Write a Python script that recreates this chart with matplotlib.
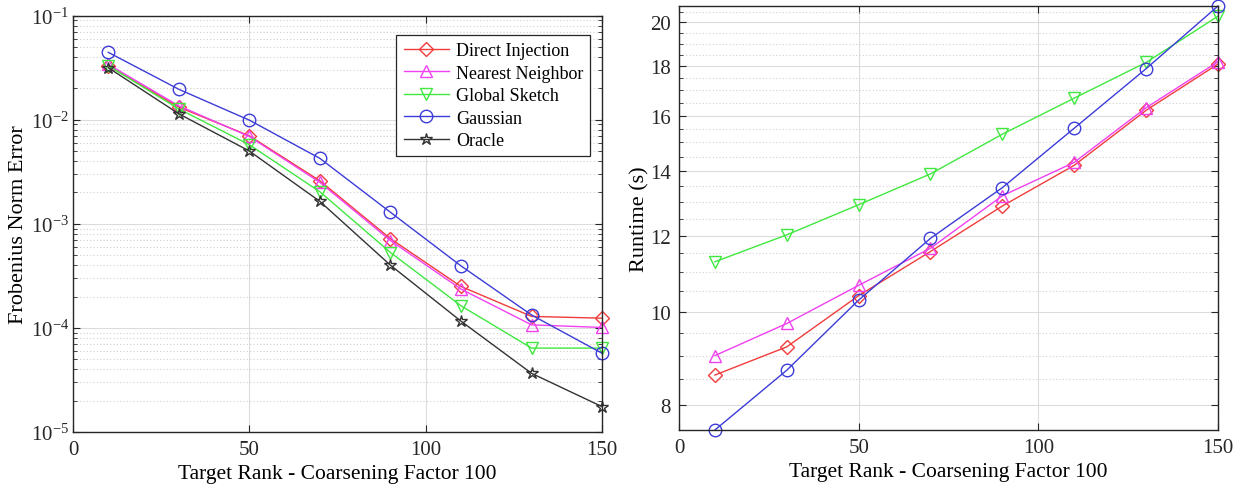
import matplotlib
matplotlib.use("Agg")
import matplotlib.pyplot as plt
from matplotlib.ticker import FixedLocator, NullFormatter, LogLocator

plt.rcParams['font.family'] = ['Liberation Serif', 'DejaVu Serif']
plt.rcParams['mathtext.fontset'] = 'custom'
plt.rcParams['mathtext.rm'] = 'Liberation Serif'
plt.rcParams['mathtext.default'] = 'regular'

ranks = [10, 30, 50, 70, 90, 110, 130, 150]

# Frobenius norm error
err_direct = [0.033, 0.0132, 0.0070, 0.00259, 0.00072, 0.000250, 0.000129, 0.000124]
err_nearest = [0.034, 0.0136, 0.0069, 0.0025, 0.00069, 0.000236, 0.000107, 0.000101]
err_global = [0.033, 0.0127, 0.00575, 0.00203, 0.00053, 0.000163, 6.4e-5, 6.4e-5]
err_gauss = [0.0444, 0.0196, 0.0099, 0.00425, 0.00129, 0.000394, 0.000133, 5.7e-5]
err_oracle = [0.0316, 0.0114, 0.0050, 0.00164, 0.00040, 0.000116, 3.66e-5, 1.75e-5]

# runtime (s)
rt_direct = [8.59, 9.19, 10.39, 11.55, 12.88, 14.2, 16.2, 18.1]
rt_nearest = [9.0, 9.72, 10.65, 11.64, 13.2, 14.3, 16.3, 18.2]
rt_global = [11.27, 12.02, 12.92, 13.91, 15.3, 16.68, 18.17, 20.3]
rt_gauss = [7.53, 8.69, 10.28, 11.92, 13.46, 15.52, 17.9, 20.8]

labels = ['Direct Injection', 'Nearest Neighbor', 'Global Sketch', 'Gaussian', 'Oracle']
colors = ['#f03c3c', '#f040f0', '#40e840', '#3c3cd8', '#333333']
markers = ['D', '^', 'v', 'o', '*']
msizes = [7, 9, 9, 9, 9]

fig = plt.figure(figsize=(12.39, 4.89), dpi=100)
ax1 = fig.add_axes([0.0589, 0.1145, 0.4271, 0.8515])
ax2 = fig.add_axes([0.548, 0.1186, 0.435, 0.867])

for ys, lab, c, m, ms in zip([err_direct, err_nearest, err_global, err_gauss, err_oracle],
                             labels, colors, markers, msizes):
    ax1.plot(ranks, ys, color=c, marker=m, markersize=ms, clip_on=False,
             markerfacecolor='none', markeredgecolor=c, lw=1, label=lab)

for ys, c, m, ms in zip([rt_direct, rt_nearest, rt_global, rt_gauss],
                        colors, markers, msizes):
    ax2.plot(ranks, ys, color=c, marker=m, markersize=ms, clip_on=False,
             markerfacecolor='none', markeredgecolor=c, lw=1)

ax1.set_yscale('log')
ax1.set_ylim(1e-5, 1e-1)
ax1.yaxis.set_major_locator(LogLocator(base=10, numticks=10))
ax1.yaxis.set_minor_locator(LogLocator(base=10, subs=range(2, 10), numticks=20))
ax1.yaxis.set_minor_formatter(NullFormatter())

ax2.set_yscale('log')
ax2.set_ylim(min(rt_gauss), max(rt_gauss))
ax2.yaxis.set_major_locator(FixedLocator([8, 10, 12, 14, 16, 18, 20]))
ax2.yaxis.set_minor_locator(FixedLocator([v / 2 for v in range(15, 42) if v % 4 != 0]))
ax2.yaxis.set_major_formatter(matplotlib.ticker.FuncFormatter(lambda v, p: f'{v:g}'))
ax2.yaxis.set_minor_formatter(NullFormatter())

for ax in (ax1, ax2):
    ax.set_xlim(0, 150)
    ax.set_xticks([0, 50, 100, 150])
    ax.tick_params(which='both', direction='in', top=True, right=True,
                   labelsize=15, colors='#262626', pad=6)
    ax.tick_params(which='major', length=5)
    ax.tick_params(which='minor', length=3)
    ax.tick_params(axis='x', which='minor', top=False, bottom=False)
    ax.grid(True, which='major', color='#dcdcdc', lw=0.8)
    ax.grid(True, which='minor', axis='y', color='#d0d0d0', lw=0.8, ls=(0, (1, 2)))
    ax.set_axisbelow(True)
    for s in ax.spines.values():
        s.set_color('#262626')
        s.set_linewidth(1.0)
    ax.set_xlabel('Target Rank - Coarsening Factor 100', fontsize=15.5, labelpad=3)

ax1.tick_params(axis='y', pad=3)
ax1.set_ylabel('Frobenius Norm Error', fontsize=16, labelpad=2)
ax2.set_ylabel('Runtime (s)', fontsize=16, labelpad=0)

leg = ax1.legend(loc='upper right', bbox_to_anchor=(0.995, 0.975), fontsize=13,
                 handlelength=2.5, handletextpad=0.4, borderpad=0.4,
                 labelspacing=0.3, fancybox=False, framealpha=1)
leg.get_frame().set_edgecolor('#262626')
leg.get_frame().set_linewidth(0.9)

fig.savefig('out.png', dpi=100)
